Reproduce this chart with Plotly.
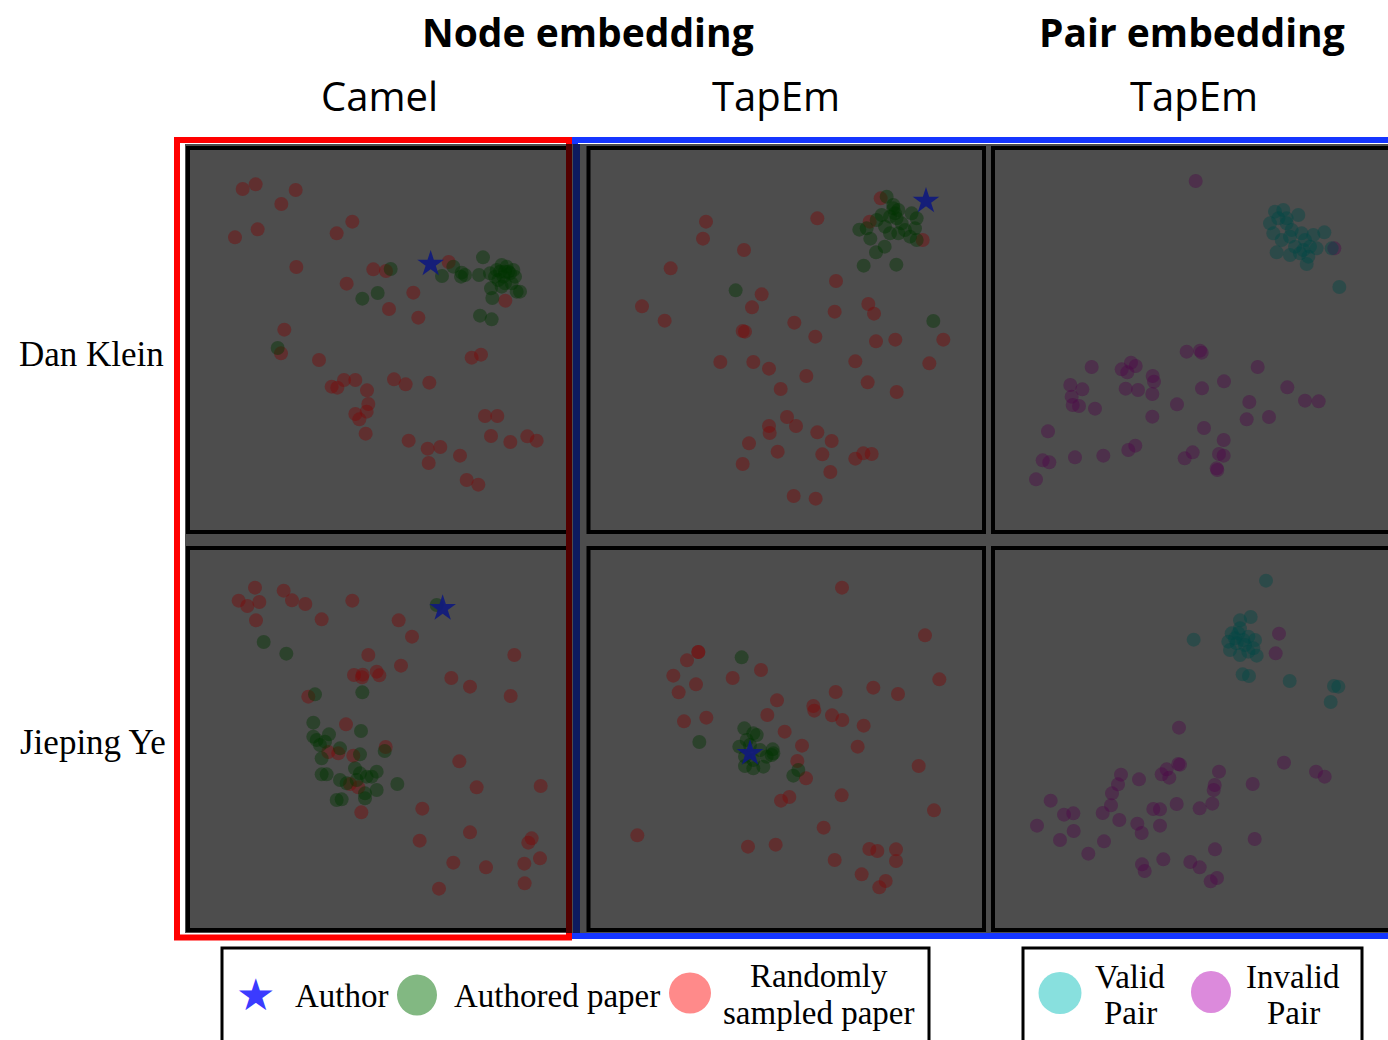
import plotly.graph_objects as go

W, H = 1388, 1040

# ---------------- data (embedding coordinates, arbitrary units) ----------------
row_labels = ["Dan Klein", "Jieping Ye"]
group_titles = ["Node embedding", "Pair embedding"]
method_titles = ["Camel", "TapEm", "TapEm"]

# Panel 1: Dan Klein / Camel
p1_random = [(18.8,105.3),(22.7,106.7),(34.7,105),(30.4,100.8),(51.7,95.5),(47,92),(23.3,93.2),(16.5,90.8),
             (34.9,81.9),(58,81.2),(61.8,80.7),(50,76.9),(70,74.2),(62.7,69.3),(71.5,66.7),(80.6,83.4),
             (97.6,71.8),(31.3,63.1),(30.3,56),(41.7,54),(87.5,54.7),(90.3,55.6),(45.5,46),(47.2,45.7),
             (49.2,48),(52.6,48),(64.2,48.2),(67.7,46.7),(74.8,47.2),(56.1,44.9),(56.5,40.8),(56,38.5),
             (52.6,37.8),(53.8,36.2),(55.7,31.9),(91.5,37.2),(95.2,37.2),(93.3,31.2),(99.1,29.4),(104.2,31.1),
             (107,29.8),(68.6,29.8),(74.3,27.4),(78.1,27.9),(74.6,23.1),(84,25.3),(86,18),(89.5,16.6)]
p1_authored = [(63.2,81.3),(59.3,74.1),(54.7,72.4),(29.3,57.6),(78.6,79.2),(82,82),(84.5,80.2),(84.3,79),
               (85.5,79.5),(89.7,79.5),(90.9,84.8),(90,67.3),(93.5,66.2),(93.7,72.6),(93.3,75.5),(95,81),
               (96.5,82.5),(98,82),(99,80),(100.5,79),(97,79),(95.5,78),(97.5,77),(99.5,77),(101,74.5),
               (102,74.5),(96,80.5),(98.5,80.5),(94.5,79),(97.5,80.5),(100,81),(93,80),(96.5,76)]
p1_author = [(75.2,82.8)]

# Panel 2: Dan Klein / TapEm node
p2_random = [(37.8,95.5),(36.9,90.4),(49.2,87),(27.2,81.5),(18.6,70.1),(25.4,65.8),(54.5,73.7),(51.6,69.8),
             (48.8,62.7),(49.5,62.5),(64.3,65.2),(70.6,61),(71.2,96.5),(76.8,77.7),(76.4,68.5),(86.5,70.8),
             (88.2,67.9),(88.8,59.6),(94.6,60.1),(109,60.1),(104.8,53),(82.6,53.6),(86.3,47.3),(95,44.4),
             (42.1,53.4),(52,53.4),(56.7,51.4),(67.9,49.2),(60.2,45.3),(62.1,36.9),(56.7,34.2),(56.9,32.1),
             (64.8,34.2),(71.2,32.3),(75.5,29.7),(50.7,29),(59.3,26.5),(72.7,25.7),(48.8,22.8),(75.1,20.4),
             (82.6,24.4),(85,26),(87.5,25.8),(64.1,13.2),(70.7,12.4),(90.2,102.5),(86.9,95.5),(102.8,90)]
p2_authored = [(46.7,74.9),(106,65.7),(85.1,82.3),(94.9,82.6),(88.8,86.3),(91.4,88),(87.1,90.4),(83.8,93.1),
               (86,93.5),(92,103),(94,100.5),(94.5,98),(95,96.5),(93,97),(90.5,97.5),(89,96),(91.5,94),
               (93,92),(95.5,92),(97.5,93),(99.5,98),(101,96.5),(100.5,93.5),(99,91),(101,90),(96.5,95),
               (94,99.5),(95.5,99)]
p2_author = [(103.8,101.7)]

# Panel 3: Dan Klein / TapEm pair
p3_valid = [(106.3,75.9),(101.8,92.3),(104,87.5),(87,98.5),(89.5,99),(90.5,96.5),(94,97.5),(85.5,95),
            (86.5,92),(89,90),(92,93),(95,92),(98.5,91.5),(96,90),(97.5,88),(99.5,87.5),(87.5,86.3),
            (91.5,85.5),(94.5,86),(96.5,82.8),(93,88),(90.5,95),(88,96.5),(91.5,91),(95.5,87),(97,85)]
p3_invalid = [(63.2,107.7),(104.8,87.5),(60.5,56.5),(64.5,56.8),(65,56.2),(32,51.9),(41,51.2),(43.8,53.2),
              (45.2,52.2),(42.7,50.3),(50.3,49.2),(50.7,47.5),(50.2,43.8),(42.2,45.4),(45.9,45),(25.6,46.5),
              (29.2,45.2),(26,43),(26.3,40.5),(28.2,40.2),(33,39.4),(50.2,37),(57.6,40.7),(65.1,45.5),
              (71.7,47.6),(81.8,51.9),(90.7,45.8),(96,41.8),(100.1,41.6),(79.3,41.4),(78.5,36.2),(85.2,36.9),
              (65.7,33.6),(71.6,30),(18.9,32.6),(17.3,23.9),(19.3,23.3),(15.3,18.2),(27,24.8),(35.5,25.3),
              (43,27),(45.1,28.3),(59.9,24.5),(62.3,26.3),(70.2,25.8),(71.6,25.3),(69.5,21.5),(69.7,21)]

# Panel 4: Jieping Ye / Camel
p4_random = [(22.5,105.7),(17.6,101.8),(20.2,100.2),(23.8,101.4),(22.8,95.9),(31.1,104.8),(33.6,101.9),
             (37.6,100.8),(42.5,96.2),(51.7,101.8),(65.6,95.9),(69.6,91),(56.5,85.5),(66.3,82.3),(52.2,79.5),
             (54.8,79.6),(54.6,78.8),(59,80.5),(59.8,79.4),(100.3,85.5),(81.4,78.6),(87,76),(99.2,73.2),
             (38.5,73),(49.8,64.7),(61.7,57.9),(44.5,56.4),(47.5,56),(52,55.3),(83.8,53.6),(89,45.8),
             (108.2,46.2),(51,46.8),(53.5,45.8),(54.4,38.3),(72.7,39.4),(71.9,29.8),(87,32.3),(105.5,30.5),
             (104.5,29.2),(108,24.5),(103.3,22.9),(82,23.2),(91.8,21.8),(77.7,15.4),(103.4,17)]
p4_authored = [(77,100.5),(25.1,89.4),(31.9,85.9),(40.5,73.7),(54.7,74.3),(40,65.2),(54.3,62.7),(44.7,61.7),
               (40,61),(41,60),(42,58.5),(43.5,59.5),(42.5,54.5),(48,57.5),(54,55.7),(61.4,56.7),(42.5,49.7),
               (44,49.7),(48,48),(52.5,51.5),(54,50),(56,49),(59,50.5),(57.5,49),(59,45),(55.5,44),
               (55.5,42.5),(65.2,46.8),(47,42),(48.5,42.2),(53,48),(50,47)]
p4_author = [(78.8,99.5)]

# Panel 5: Jieping Ye / TapEm node
p5_random = [(78.6,105.7),(103.5,91.4),(107.8,78.2),(35.5,86.4),(32.1,83.9),(28,79.3),(34.8,76.7),(29.6,74.3),
             (45.8,78.6),(54.3,81),(31.2,65.6),(37.9,66.7),(59.1,71.9),(56.2,67.5),(61.4,62.5),(66.6,58.3),
             (70,70.2),(70.3,68.8),(76.7,74.4),(75.6,67.4),(78.7,66),(88,75.7),(95.4,73.8),(85.1,64.3),
             (83.3,58),(101.6,52.2),(65.2,53.7),(67.8,48.5),(62.8,42.9),(60.3,41.8),(78.5,43.4),(106.2,38.9),
             (73.1,33.7),(17.2,31.4),(50.4,28),(58.7,28.6),(86.8,27.3),(89.2,26.7),(94.8,27.2),(94.8,23.7),
             (76.4,24),(84.5,19.7),(91.7,17.7),(89.8,15.8),(35.5,86.4)]
p5_authored = [(48.5,84.8),(35.8,59.4),(49.3,63.5),(52,62),(53,61.5),(50,60),(47.8,58),(49.5,55),(52,54),
               (49.5,52.2),(52,51.5),(55,52),(57.8,57.2),(58,56),(56,55),(57.5,55.5),(54,57),(64,49.3),
               (65.5,51),(51,58.5)]
p5_author = [(51,56)]

# Panel 6: Jieping Ye / TapEm pair
p6_valid = [(84.3,107.8),(62.6,90.1),(79.7,96.9),(76.5,95.9),(74,92),(76.5,93.5),(79,91),(81,90),(73,89.5),
            (75.5,89),(78,88.5),(80.5,87.5),(73.5,87),(76.5,85.5),(81.5,85.3),(79,86.5),(75,90.5),(77.5,90),
            (76,92),(77.3,79.7),(79.2,79.2),(91.4,77.7),(104.7,76.2),(106,76),(103.7,71.4)]
p6_invalid = [(88.2,91.9),(87.2,86),(58.2,63.7),(58,52.8),(58.5,52.6),(54.5,51.2),(53,49.7),(55.3,48.7),
              (46.2,48.2),(40.8,49.6),(39.9,46.7),(38.1,44),(37.8,40.4),(35.3,38.1),(40.3,36),(70.2,50.5),
              (68.9,46.5),(68.6,45),(80.3,46.8),(89.7,53.2),(99.3,50.5),(101.9,49),(68.2,40.9),(64.4,39.5),
              (57.5,40.8),(50.5,39.3),(52.5,39.2),(52.5,34.3),(45.7,34.9),(47,32.1),(19.7,41.8),(23.7,37.6),
              (26.5,38),(15.6,34.3),(26.6,32.7),(22.5,30),(35.7,29.6),(31,25.9),(80.9,30.3),(69,27.2),
              (53.5,24.2),(47.1,22.7),(47.9,20.7),(61.6,23.4),(64.4,21.8),(67.7,17.6),(69.6,18.6)]

legend_node = ["Author", "Authored paper", "Randomly", "sampled paper"]
legend_pair = ["Valid", "Pair", "Invalid", "Pair"]

# ---------------- styling / layout ----------------
C_RANDOM = "rgba(125,8,8,0.42)"
C_AUTHORED = "rgba(0,52,0,0.42)"
C_VALID = "rgba(0,72,68,0.42)"
C_INVALID = "rgba(78,4,72,0.40)"
C_STAR = "rgba(16,26,125,0.92)"
GRAY = "#4d4d4d"
DOT = 14

def px(x):
    return x / W

def py(y):
    return 1 - y / H

# panel: (inner pixel x0, x1, y0, y1, data origin ox, oy)
panels = [
    (190, 566, 150, 530, 180, 140),
    (590, 982, 150, 530, 580, 140),
    (995, 1388, 150, 530, 985, 140),
    (190, 566, 550, 928, 180, 540),
    (590, 982, 550, 928, 580, 540),
    (995, 1388, 550, 928, 985, 540),
]

series = [
    [(p1_random, C_RANDOM, "circle", DOT), (p1_authored, C_AUTHORED, "circle", DOT), (p1_author, C_STAR, "star", 20)],
    [(p2_random, C_RANDOM, "circle", DOT), (p2_authored, C_AUTHORED, "circle", DOT), (p2_author, C_STAR, "star", 20)],
    [(p3_invalid, C_INVALID, "circle", DOT), (p3_valid, C_VALID, "circle", DOT)],
    [(p4_random, C_RANDOM, "circle", DOT), (p4_authored, C_AUTHORED, "circle", DOT), (p4_author, C_STAR, "star", 20)],
    [(p5_random, C_RANDOM, "circle", DOT), (p5_authored, C_AUTHORED, "circle", DOT), (p5_author, C_STAR, "star", 20)],
    [(p6_invalid, C_INVALID, "circle", DOT), (p6_valid, C_VALID, "circle", DOT)],
]

fig = go.Figure()
layout_axes = {}
for i, (panel, sers) in enumerate(zip(panels, series)):
    x0, x1, y0, y1, ox, oy = panel
    k = "" if i == 0 else str(i + 1)
    for pts, col, sym, sz in sers:
        fig.add_trace(go.Scatter(
            x=[p[0] for p in pts], y=[p[1] for p in pts], mode="markers",
            marker=dict(color=col, symbol=sym, size=sz, line=dict(width=0)),
            xaxis="x" + k, yaxis="y" + k, showlegend=False, hoverinfo="skip"))
    xr = [(x0 - ox) * 0.3, (x1 - ox) * 0.3]
    yr = [120 - (y1 - oy) * 0.3, 120 - (y0 - oy) * 0.3]
    ax = dict(showgrid=False, zeroline=False, showticklabels=False, ticks="", showline=False, fixedrange=True)
    layout_axes["xaxis" + k] = dict(ax, domain=[px(x0), px(x1)], range=xr, anchor="y" + k)
    layout_axes["yaxis" + k] = dict(ax, domain=[py(y1), py(y0)], range=yr, anchor="x" + k)

shapes = []
def rect(x0, y0, x1, y1, **kw):
    d = dict(type="rect", xref="paper", yref="paper", x0=px(x0), x1=px(x1), y0=py(y1), y1=py(y0), layer="below")
    d.update(kw)
    shapes.append(d)

def vline(x, y0, y1, color, width):
    shapes.append(dict(type="line", xref="paper", yref="paper", x0=px(x), x1=px(x), y0=py(y0), y1=py(y1),
                       line=dict(color=color, width=width), layer="below"))

# bright group frames
rect(177, 140, 569, 937.5, line=dict(color="#ff0000", width=6))
rect(575, 140, 1400, 936, line=dict(color="#1535ff", width=6))
# dark overlay area
rect(185, 144, 1388, 933, fillcolor=GRAY, line=dict(width=0))
vline(569, 144, 933, "#520000", 6)
vline(576.5, 144, 933, "#0e1b5e", 7)
# panel borders
for bx0, bx1 in [(188, 568), (588.5, 984), (993, 1392)]:
    for by0, by1 in [(148, 532), (548, 930)]:
        rect(bx0, by0, bx1, by1, line=dict(color="black", width=4))
vline(569, 144, 933, "#520000", 6)

# legend boxes
rect(222, 948, 929, 1060, line=dict(color="black", width=3), fillcolor="white")
rect(1023, 948, 1362, 1060, line=dict(color="black", width=3), fillcolor="white")

def ellipse(cx, cy, w, h, color):
    shapes.append(dict(type="circle", xref="paper", yref="paper", x0=px(cx - w / 2), x1=px(cx + w / 2),
                       y0=py(cy + h / 2), y1=py(cy - h / 2), fillcolor=color, line=dict(width=0)))

ellipse(417, 995, 40, 41, "#82b882")
ellipse(690, 993, 42, 41, "#ff8a8a")
ellipse(1060, 993, 43, 42, "#88e0de")
ellipse(1211, 992, 40, 42, "#dc8adc")

annotations = []
def text(s, x, y, size, family, xanchor="center", color="black", yanchor="middle"):
    annotations.append(dict(text=s, x=px(x), y=py(y), xref="paper", yref="paper", showarrow=False,
                            xanchor=xanchor, yanchor=yanchor, font=dict(size=size, family=family, color=color)))

SANS = "Open Sans, Noto Sans, sans-serif"
SERIF = "Liberation Serif, Times New Roman, serif"

text("<b>" + group_titles[0] + "</b>", 588, 31, 39, SANS)
text("<b>" + group_titles[1] + "</b>", 1192, 31, 39, SANS)
text(method_titles[0], 379, 95, 40, SANS)
text(method_titles[1], 776, 95, 40, SANS)
text(method_titles[2], 1194, 95, 40, SANS)
text(row_labels[0], 91, 354, 35, SERIF)
text(row_labels[1], 93, 742, 35, SERIF)

text("★", 255, 994, 44, "DejaVu Sans", color="#3b3bff")
text(legend_node[0], 293, 996, 33, SERIF, xanchor="left")
text(legend_node[1], 452, 996, 33, SERIF, xanchor="left")
text(legend_node[2], 819, 976, 33, SERIF)
text(legend_node[3], 819, 1013, 33, SERIF)
text(legend_pair[0], 1130, 977, 33, SERIF)
text(legend_pair[1], 1130, 1013, 33, SERIF)
text(legend_pair[2], 1293, 977, 33, SERIF)
text(legend_pair[3], 1293, 1013, 33, SERIF)

fig.update_layout(
    width=W, height=H, margin=dict(l=0, r=0, t=0, b=0, pad=0),
    paper_bgcolor="white", plot_bgcolor="rgba(0,0,0,0)",
    shapes=shapes, annotations=annotations, showlegend=False, hovermode=False,
    **layout_axes,
)
fig.write_html("out.html", config={"displayModeBar": False, "staticPlot": True},
               post_script="document.body.style.margin='0';document.body.style.overflow='hidden';")
